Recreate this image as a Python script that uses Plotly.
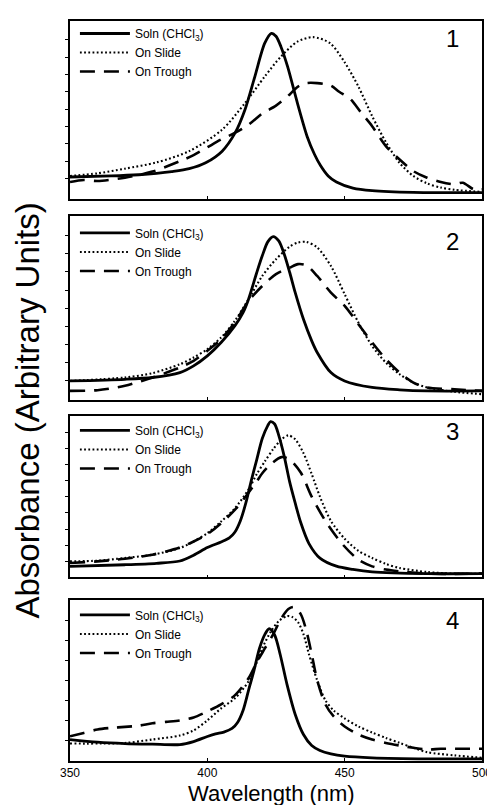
import plotly.graph_objects as go

# ---------------- data (wavelength in nm, absorbance in arbitrary tick units) ----------------
p1_sol_wl = [350, 365, 375, 381.5, 387, 393.4, 399.4, 405.4, 410.1, 413.7, 417.3, 420.9, 423.3, 425, 426.8, 429.2, 432.8, 436.4, 439, 441.2, 444, 447, 453, 460, 475, 500]
p1_sol_ab = [1.09, 1.15, 1.22, 1.30, 1.40, 1.57, 1.91, 2.58, 3.63, 4.97, 6.88, 8.80, 9.37, 9.20, 8.60, 7.46, 5.35, 3.40, 2.40, 1.75, 1.15, 0.80, 0.45, 0.30, 0.20, 0.19]
p1_sli_wl = [350, 360, 370, 381.5, 393.4, 405.4, 413.7, 420.9, 426.8, 432.8, 438.5, 444.7, 450, 455, 460, 465, 470, 475, 480, 485, 490, 500]
p1_sli_ab = [1.15, 1.30, 1.57, 1.93, 2.58, 3.82, 5.35, 6.88, 8.03, 8.89, 9.15, 8.80, 7.70, 6.30, 4.60, 3.10, 1.90, 1.15, 0.72, 0.48, 0.35, 0.23]
p1_tro_wl = [350, 355, 360, 370, 380, 390, 395, 400, 405, 410, 415, 420, 425, 430, 433, 436, 440, 445, 448, 452, 456, 460, 465, 470, 475, 480, 485, 490, 493, 497, 500]
p1_tro_ab = [0.80, 0.92, 0.86, 1.05, 1.40, 2.00, 2.35, 2.80, 3.25, 3.63, 4.10, 4.75, 5.20, 5.85, 6.30, 6.50, 6.50, 6.35, 6.00, 5.60, 4.80, 4.02, 2.87, 2.10, 1.43, 1.05, 0.80, 0.67, 0.76, 0.38, 0.38]

p2_sol_wl = [350, 370, 380, 390, 395, 400, 405, 410, 413, 415, 418, 420, 422, 424, 426, 428, 430, 432, 435, 438, 440, 445, 450, 460, 470, 480, 500]
p2_sol_ab = [0.99, 1.08, 1.18, 1.45, 1.82, 2.37, 3.11, 4.03, 4.76, 5.50, 6.97, 7.89, 8.66, 8.95, 8.71, 7.98, 6.97, 5.86, 4.39, 3.20, 2.56, 1.45, 0.99, 0.63, 0.50, 0.44, 0.44]
p2_sli_wl = [350, 370, 380, 390, 395, 400, 405, 410, 415, 420, 425, 430, 433, 436, 440, 445, 450, 455, 460, 465, 470, 475, 480, 490, 500]
p2_sli_ab = [0.99, 1.18, 1.42, 1.91, 2.28, 2.74, 3.38, 4.30, 5.50, 6.78, 7.70, 8.40, 8.62, 8.66, 8.35, 7.33, 5.77, 4.21, 2.92, 2.00, 1.36, 0.90, 0.63, 0.39, 0.26]
p2_tro_wl = [350, 360, 370, 380, 390, 395, 400, 405, 410, 413, 415, 420, 425, 430, 433, 436, 440, 445, 450, 455, 460, 465, 470, 475, 480, 490, 500]
p2_tro_ab = [0.44, 0.48, 0.72, 1.18, 1.73, 2.10, 2.65, 3.29, 4.21, 4.94, 5.40, 6.23, 6.88, 7.24, 7.43, 7.37, 6.78, 5.86, 5.13, 4.12, 3.11, 2.19, 1.45, 0.90, 0.63, 0.53, 0.44]

p3_sol_wl = [350, 370, 381.5, 390, 395, 400, 405, 408, 410, 412, 414, 416, 418, 420, 422, 423, 424.5, 426, 428, 430, 432, 434, 437, 441, 447, 453, 460, 480, 500]
p3_sol_ab = [0.69, 0.79, 0.88, 1.02, 1.38, 1.85, 2.20, 2.45, 2.80, 3.50, 4.60, 6.00, 7.30, 8.60, 9.40, 9.65, 9.50, 8.80, 7.50, 5.90, 4.60, 3.40, 2.10, 1.20, 0.70, 0.50, 0.35, 0.24, 0.24]
p3_sli_wl = [350, 360, 370, 380, 390, 395, 400, 405, 410, 415, 418, 421, 424, 427, 429.5, 432, 435, 438, 441, 445, 450, 455, 460, 465, 470, 480, 490, 500]
p3_sli_ab = [1.00, 1.04, 1.21, 1.41, 1.82, 2.23, 2.74, 3.46, 4.28, 5.45, 6.40, 7.20, 7.95, 8.55, 8.80, 8.55, 7.70, 6.40, 5.00, 3.50, 2.40, 1.65, 1.21, 0.84, 0.59, 0.34, 0.24, 0.24]
p3_tro_wl = [350, 360, 370, 380, 390, 395, 400, 405, 410, 415, 418, 420, 423, 427, 430, 434, 438, 443, 449, 455, 460, 465, 470, 480, 500]
p3_tro_ab = [0.90, 1.00, 1.16, 1.41, 1.86, 2.23, 2.68, 3.36, 4.18, 5.25, 5.95, 6.45, 7.00, 7.45, 7.30, 6.50, 5.00, 3.50, 2.10, 1.10, 0.69, 0.49, 0.38, 0.24, 0.24]

p4_sol_wl = [350, 360, 370, 380, 390, 395, 400, 403, 406, 409, 411, 413, 415, 417, 419, 421, 422.5, 424.5, 426.5, 429, 432, 435, 438, 441, 445, 450, 460, 480, 500]
p4_sol_ab = [1.05, 0.92, 0.85, 0.82, 0.80, 0.95, 1.20, 1.33, 1.42, 1.60, 1.90, 2.50, 3.50, 4.50, 5.60, 6.30, 6.57, 6.26, 5.30, 3.80, 2.30, 1.30, 0.75, 0.50, 0.33, 0.22, 0.14, 0.09, 0.09]
p4_sli_wl = [350, 370, 380, 390, 395, 400, 405, 410, 415, 418, 420, 423, 426, 429, 431, 433, 435, 437, 440, 443, 446, 450, 455, 460, 465, 470, 475, 480, 490, 500]
p4_sli_ab = [0.85, 0.88, 1.05, 1.25, 1.50, 2.00, 2.60, 3.10, 3.95, 4.90, 5.60, 6.40, 6.95, 7.20, 7.15, 6.90, 6.30, 5.30, 4.00, 3.00, 2.50, 2.10, 1.70, 1.40, 1.13, 0.88, 0.64, 0.42, 0.26, 0.14]
p4_tro_wl = [350, 355, 360, 365, 370, 375, 380, 385, 390, 395, 400, 405, 410, 415, 418, 421, 424, 427, 429.5, 431.5, 434, 436, 438, 440, 443, 446, 450, 455, 460, 465, 470, 475, 480, 485, 490, 500]
p4_tro_ab = [1.21, 1.38, 1.55, 1.63, 1.68, 1.74, 1.86, 1.93, 2.00, 2.15, 2.45, 2.80, 3.25, 4.10, 4.90, 5.60, 6.30, 7.10, 7.55, 7.65, 7.30, 6.50, 5.30, 4.00, 2.80, 2.20, 1.70, 1.30, 1.05, 0.88, 0.75, 0.64, 0.55, 0.59, 0.59, 0.59]

panel_labels = ["1", "2", "3", "4"]
series_names = ["Soln (CHCl<sub>3</sub>)", "On Slide", "On Trough"]
x_tick_vals = [350, 400, 450, 500]
x_tick_text = ["350", "400", "450", "500"]

panels = [
    [(p1_sol_wl, p1_sol_ab), (p1_sli_wl, p1_sli_ab), (p1_tro_wl, p1_tro_ab)],
    [(p2_sol_wl, p2_sol_ab), (p2_sli_wl, p2_sli_ab), (p2_tro_wl, p2_tro_ab)],
    [(p3_sol_wl, p3_sol_ab), (p3_sli_wl, p3_sli_ab), (p3_tro_wl, p3_tro_ab)],
    [(p4_sol_wl, p4_sol_ab), (p4_sli_wl, p4_sli_ab), (p4_tro_wl, p4_tro_ab)],
]

# ---------------- styles / layout ----------------
W, H = 495, 805
ML, MR, MT, MB = 62, 15, 11, 52
PH = H - MT - MB
PW = W - ML - MR

def py2paper(py):
    return (H - MB - py) / PH

def px2paper(px):
    return (px - ML) / PW

panel_px = [(11, 189), (207, 391), (407, 569), (592, 753)]
y_ranges = [[-0.15, 10.08], [-0.06, 10.06], [0.0, 10.0], [-0.02, 7.98]]
y_ticks = [list(range(1, 10)), list(range(1, 10)), list(range(1, 10)), list(range(1, 8))]
legend_top_px = [9, 209, 407, 592]
label_py = [29, 232, 423, 612]

line_styles = [
    dict(color="black", width=2.8, dash="solid"),
    dict(color="black", width=2.1, dash="1.8px,2.4px"),
    dict(color="black", width=2.6, dash="15px,9px"),
]

FONT = "Liberation Sans, Arial, Helvetica, sans-serif"

fig = go.Figure()
layout = dict(
    width=W, height=H,
    margin=dict(l=ML, r=MR, t=MT, b=MB, pad=0),
    paper_bgcolor="white", plot_bgcolor="white",
    font=dict(family=FONT, color="black"),
    showlegend=True,
)

annotations = []
for i, series in enumerate(panels):
    k = i + 1
    xa = "x" if k == 1 else f"x{k}"
    ya = "y" if k == 1 else f"y{k}"
    lg = "legend" if k == 1 else f"legend{k}"
    for j, (wl, ab) in enumerate(series):
        fig.add_trace(go.Scatter(
            x=wl, y=ab, mode="lines", name=series_names[j],
            line=dict(shape="spline", smoothing=0.8, **line_styles[j]),
            xaxis=xa, yaxis=ya, legend=lg, showlegend=True,
        ))
    top, bot = panel_px[i]
    layout[f"xaxis{'' if k == 1 else k}"] = dict(
        domain=[0, 1], anchor=ya, range=[350, 500],
        showgrid=False, zeroline=False, showline=True, mirror=True,
        linecolor="black", linewidth=1.8,
        ticks="inside", ticklen=3, tickwidth=1.2, tickcolor="black",
        tickvals=x_tick_vals, ticktext=x_tick_text,
        showticklabels=(k == 4),
        tickfont=dict(size=12, family=FONT, color="black"),
        **({} if k == 1 else {"matches": "x"}),
    )
    layout[f"yaxis{'' if k == 1 else k}"] = dict(
        domain=[py2paper(bot), py2paper(top)], anchor=xa, range=y_ranges[i],
        showgrid=False, zeroline=False, showline=True, mirror=True,
        linecolor="black", linewidth=1.8,
        ticks="outside", ticklen=3, tickwidth=1.2, tickcolor="black",
        tickvals=y_ticks[i], showticklabels=False,
    )
    layout[lg] = dict(
        x=px2paper(67), y=py2paper(legend_top_px[i]), xanchor="left", yanchor="top",
        bgcolor="rgba(0,0,0,0)", borderwidth=0, itemwidth=50,
        font=dict(size=12, family=FONT, color="black"),
        tracegroupgap=0, itemclick=False,
    )
    annotations.append(dict(
        text=panel_labels[i], x=px2paper(450), y=py2paper(label_py[i]),
        xref="paper", yref="paper", xanchor="center", yanchor="middle",
        showarrow=False, font=dict(size=24, family=FONT, color="black"),
    ))

annotations.append(dict(
    text="Absorbance (Arbitrary Units)", x=px2paper(19), y=py2paper(402),
    xref="paper", yref="paper", xanchor="center", yanchor="middle",
    textangle=-90, showarrow=False, font=dict(size=33, family=FONT, color="black"),
))
annotations.append(dict(
    text="Wavelength (nm)", x=px2paper(266), y=py2paper(786),
    xref="paper", yref="paper", xanchor="center", yanchor="middle",
    showarrow=False, font=dict(size=22, family=FONT, color="black"),
))
layout["annotations"] = annotations

fig.update_layout(**layout)
fig.write_html("out.html")
